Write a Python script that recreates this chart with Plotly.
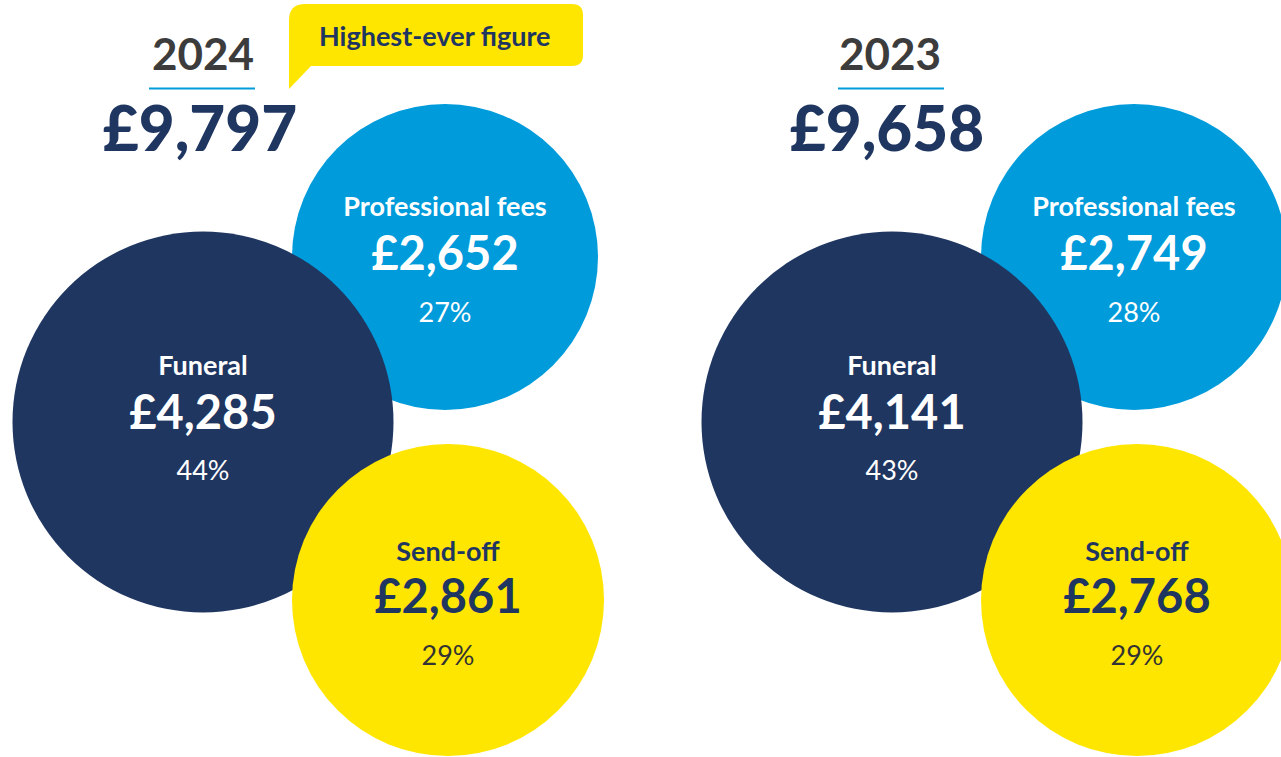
import plotly.graph_objects as go

# ---------------- data ----------------
years = ["2024", "2023"]
totals = [9797, 9658]
categories = ["Professional fees", "Funeral", "Send-off"]
values_2024 = [2652, 4285, 2861]
values_2023 = [2749, 4141, 2768]
shares_2024 = [27, 44, 29]
shares_2023 = [28, 43, 29]
callout_text = "Highest-ever figure"

values_by_year = [values_2024, values_2023]
shares_by_year = [shares_2024, shares_2023]

# ---------------- layout / style constants ----------------
W, H = 1281, 757
PANEL_X = [203, 892]          # x of the panel anchor (funeral bubble centre)
CAT_DX = [242, 0, 245]        # bubble centre offset from panel anchor
CAT_CY = [257, 422, 600]      # bubble centre y (px from top)
CAT_D = [306, 381, 312]       # bubble diameter (px)
LABEL_Y = [209, 368, 554]
VALUE_Y = [258, 417, 601]
SHARE_Y = [315, 473, 658]
FILL = ["#009BDB", "#1F3661", "#FFE600"]
TXT = ["#FFFFFF", "#FFFFFF", "#1F3661"]
SHARE_TXT = ["#FFFFFF", "#FFFFFF", "#333333"]
NAVY = "#1F3661"
GREY = "#3C3C3C"
BLUE = "#009BDB"
YELLOW = "#FFE600"
FONT = "Lato"

fig = go.Figure()

# bubbles
for p, yr in enumerate(years):
    xs = [PANEL_X[p] + dx for dx in CAT_DX]
    fig.add_trace(go.Scatter(
        x=xs, y=CAT_CY, mode="markers",
        marker=dict(size=CAT_D, color=FILL, line=dict(width=0), opacity=1),
        hoverinfo="skip", cliponaxis=True,
    ))

# text inside bubbles
for p, yr in enumerate(years):
    xs = [PANEL_X[p] + dx for dx in CAT_DX]
    vals = values_by_year[p]
    shs = shares_by_year[p]
    fig.add_trace(go.Scatter(
        x=xs, y=LABEL_Y, mode="text", text=categories,
        textposition="middle center",
        textfont=dict(family=FONT, size=27, color=TXT, weight=700),
        hoverinfo="skip",
    ))
    fig.add_trace(go.Scatter(
        x=xs, y=VALUE_Y, mode="text", text=[f"£{v:,}" for v in vals],
        textposition="middle center",
        textfont=dict(family=FONT, size=47, color=TXT, weight=700),
        hoverinfo="skip",
    ))
    fig.add_trace(go.Scatter(
        x=xs, y=SHARE_Y, mode="text", text=[f"{s}%" for s in shs],
        textposition="middle center",
        textfont=dict(family=FONT, size=27, color=SHARE_TXT, weight=400),
        hoverinfo="skip",
    ))

# panel headings: year + underline + total
fig.add_trace(go.Scatter(
    x=[PANEL_X[0], PANEL_X[1] - 2], y=[59, 59], mode="text", text=years,
    textposition="middle center",
    textfont=dict(family=FONT, size=44, color=GREY, weight=700),
    hoverinfo="skip",
))
fig.add_trace(go.Scatter(
    x=[PANEL_X[0] - 3, PANEL_X[1] - 5], y=[135, 135], mode="text",
    text=[f"£{t:,}" for t in totals],
    textposition="middle center",
    textfont=dict(family=FONT, size=62, color=NAVY, weight=900),
    hoverinfo="skip",
))

shapes = []
for p in range(2):
    cx = PANEL_X[p] - 1
    shapes.append(dict(type="line", xref="x", yref="y",
                       x0=cx - 53, x1=cx + 53, y0=88.5, y1=88.5,
                       line=dict(color=BLUE, width=2), layer="above"))

# speech-bubble callout
shapes.append(dict(
    type="path", xref="x", yref="y", layer="above",
    path="M 289,89 L 289,20 Q 289,4 305,4 L 572,4 Q 583,4 583,15 "
         "L 583,55 Q 583,66 572,66 L 311,66 Z",
    fillcolor=YELLOW, line=dict(width=0),
))

fig.add_annotation(
    x=435, y=35, xref="x", yref="y", text=callout_text, showarrow=False,
    font=dict(family=FONT, size=27, color=NAVY, weight=700),
    xanchor="center", yanchor="middle",
)

fig.update_layout(
    width=W, height=H,
    margin=dict(l=0, r=0, t=0, b=0),
    paper_bgcolor="white", plot_bgcolor="white",
    showlegend=False,
    xaxis=dict(range=[0, W], visible=False, fixedrange=True),
    yaxis=dict(range=[H, 0], visible=False, fixedrange=True),
    shapes=shapes,
)

fig.write_html("out.html", config={"displayModeBar": False},
               post_script="document.body.style.margin='0';")
